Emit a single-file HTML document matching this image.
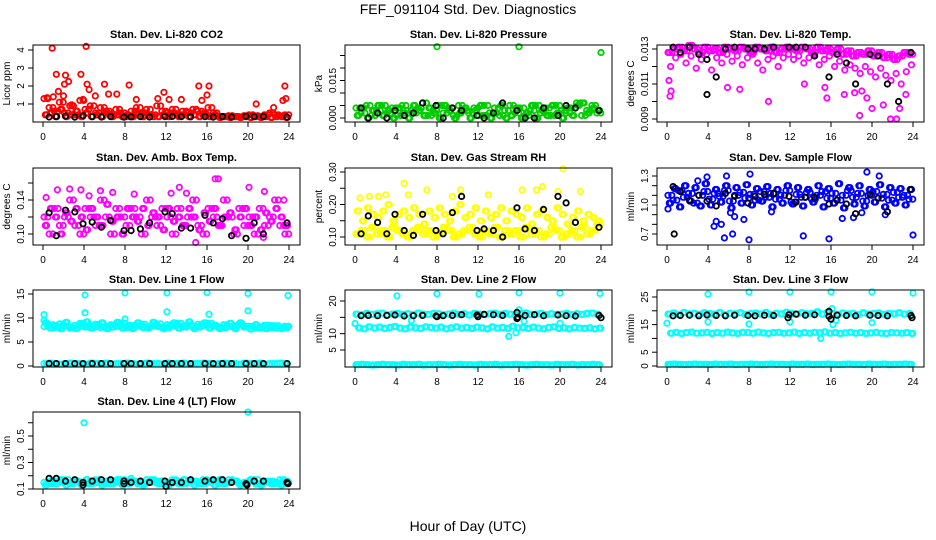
<!DOCTYPE html>
<html><head><meta charset="utf-8"><style>
body{margin:0;background:#fff}
svg{display:block}
text{font-family:"Liberation Sans",sans-serif;fill:#000}
</style></head><body>
<svg id="chart" width="936" height="540" viewBox="0 0 936 540" xmlns="http://www.w3.org/2000/svg">
<rect width="936" height="540" fill="#fff"/>
<text x="468" y="14" font-size="14" text-anchor="middle">FEF_091104  Std. Dev. Diagnostics</text>
<text x="468" y="531" font-size="14" text-anchor="middle">Hour of Day (UTC)</text>
</svg>
<script>
const T=[0.1,0.6,1.1,1.6,2.1,2.6,3.1,3.6,4.1,4.6,5.1,5.6,6.1,6.6,7.1,7.6,8.1,8.6,9.1,9.6,10.1,10.6,11.1,11.6,12.1,12.6,13.1,13.6,14.1,14.6,15.1,15.6,16.1,16.6,17.1,17.6,18.1,18.6,19.1,19.6,20.1,20.6,21.1,21.6,22.1,22.6,23.1,23.6];
const T2=[0.35,0.85,1.35,1.85,2.35,2.85,3.35,3.85,4.35,4.85,5.35,5.85,6.35,6.85,7.35,7.85,8.35,8.85,9.35,9.85,10.35,10.85,11.35,11.85,12.35,12.85,13.35,13.85,14.35,14.85,15.35,15.85,16.35,16.85,17.35,17.85,18.35,18.85,19.35,19.85,20.35,20.85,21.35,21.85,22.35,22.85,23.35,23.85];
const T3=[0.22,0.72,1.22,1.72,2.22,2.72,3.22,3.72,4.22,4.72,5.22,5.72,6.22,6.72,7.22,7.72,8.22,8.72,9.22,9.72,10.22,10.72,11.22,11.72,12.22,12.72,13.22,13.72,14.22,14.72,15.22,15.72,16.22,16.72,17.22,17.72,18.22,18.72,19.22,19.72,20.22,20.72,21.22,21.72,22.22,22.72,23.22,23.72];
const T4=[0.47,0.97,1.47,1.97,2.47,2.97,3.47,3.97,4.47,4.97,5.47,5.97,6.47,6.97,7.47,7.97,8.47,8.97,9.47,9.97,10.47,10.97,11.47,11.97,12.47,12.97,13.47,13.97,14.47,14.97,15.47,15.97,16.47,16.97,17.47,17.97,18.47,18.97,19.47,19.97,20.47,20.97,21.47,21.97,22.47,22.97,23.47,23.97];
const TB=[0.6,1.3,2.2,3.1,3.9,4.8,5.7,6.6,7.9,8.6,9.5,10.4,11.9,12.6,13.5,14.4,15.8,16.6,17.5,18.4,19.8,20.6,21.5,23.8];
const xTicks=[0,4,8,12,16,20,24];

const co2A=[1.3,0.8,0.6,1.1,0.5,0.9,0.4,1.2,0.7,0.9,0.5,0.8,0.6,0.4,0.7,0.5,0.3,0.6,0.8,0.5,0.7,0.4,0.9,0.6,0.5,0.7,0.4,0.6,0.5,0.7,0.6,0.4,0.8,0.5,0.3,0.3,0.35,0.3,0.3,0.35,0.4,0.35,0.3,0.4,0.5,0.4,0.35,0.4];
const co2B=[0.4,0.5,0.3,0.7,0.3,0.4,0.6,0.3,0.5,0.3,0.4,0.3,0.5,0.3,0.4,0.3,0.4,0.3,0.5,0.3,0.4,0.3,0.3,0.4,0.3,0.5,0.3,0.4,0.3,0.4,0.3,0.5,0.3,0.4,0.25,0.3,0.25,0.3,0.25,0.3,0.25,0.3,0.25,0.3,0.25,0.3,0.3,0.25];
const co2OutX=[0.9,4.2,1.3,3.7,2.2,2.5,4.3,6.0,8.4,15.2,16.2,23.6,2.1,1.5,11.8,4.5,6.4,7.2,16.0,2.0,5.1,11.2,12.3,13.5,9.1,20.8,23.7,23.4,0.4,1.0,3.9,2.8,22.5,15.5];
const co2OutY=[4.1,4.2,2.65,2.65,2.6,2.25,2.1,2.1,2.05,2.0,2.0,2.0,2.1,1.7,1.65,1.8,1.55,1.55,1.5,1.45,1.45,1.3,1.25,1.25,1.25,1.0,1.3,1.2,1.35,1.4,1.25,0.95,0.8,1.2];
const co2K=[0.28,0.3,0.33,0.27,0.35,0.3,0.28,0.3,0.27,0.29,0.3,0.28,0.3,0.31,0.3,0.29,0.3,0.27,0.3,0.28,0.32,0.3,0.31,0.27];

const prA=[0.004,0.002,0.005,0.001,0.003,0.005,0.002,0.004,0.001,0.005,0.003,0.002,0.004,0.006,0.001,0.003,0.005,0.002,0.004,0.001,0.005,0.003,0.002,0.004,0.001,0.005,0.002,0.004,0.001,0.003,0.005,0.002,0.004,0.001,0.003,0.005,0.002,0.004,0.001,0.005,0.003,0.002,0.004,0.006,0.001,0.003,0.005,0.002];
const prB=[0.001,0.004,0.000,0.003,0.005,0.001,0.003,0.000,0.004,0.002,0.000,0.005,0.003,0.001,0.004,0.002,0.000,0.005,0.003,0.000,0.002,0.004,0.000,0.003,0.005,0.001,0.000,0.002,0.005,0.000,0.001,0.004,0.000,0.002,0.005,0.000,0.003,0.001,0.005,0.002,0.000,0.004,0.001,0.005,0.006,0.002,0.004,0.003];
const prOutX=[8.0,16.0,24.0];
const prOutY=[0.0285,0.0285,0.0262];
const prK=[0.004,0.000,0.002,0.000,0.003,0.001,0.002,0.006,0.005,0.000,0.004,0.003,0.001,0.000,0.002,0.006,0.003,0.000,0.000,0.004,0.001,0.005,0.004,0.003];

const ltA=[0.0128,0.0130,0.0131,0.0129,0.0132,0.0130,0.0128,0.0131,0.0129,0.0130,0.0128,0.0131,0.0130,0.0129,0.0131,0.0130,0.0128,0.0131,0.0130,0.0129,0.0131,0.0128,0.0130,0.0131,0.0130,0.0129,0.0131,0.0130,0.0128,0.0131,0.0129,0.0130,0.0128,0.0130,0.0127,0.0129,0.0126,0.0128,0.0127,0.0129,0.0126,0.0128,0.0125,0.0127,0.0124,0.0126,0.0128,0.0127];
const ltB=[0.0120,0.0125,0.0127,0.0122,0.0126,0.0119,0.0124,0.0127,0.0118,0.0125,0.0122,0.0127,0.0123,0.0126,0.0121,0.0125,0.0127,0.0122,0.0118,0.0124,0.0126,0.0120,0.0125,0.0127,0.0124,0.0126,0.0122,0.0125,0.0127,0.0121,0.0124,0.0126,0.0120,0.0123,0.0118,0.0121,0.0119,0.0116,0.0120,0.0117,0.0114,0.0119,0.0115,0.0112,0.0116,0.0110,0.0117,0.0121];
const ltOutX=[0.2,0.3,0.4,9.9,7.1,5.9,18.8,21.8,22.4,20.0,21.1,22.7,23.3,13.4,17.3,18.3,19.0,15.4,15.6,19.5];
const ltOutY=[0.0112,0.0103,0.0106,0.0100,0.0107,0.0108,0.0092,0.0090,0.0090,0.0096,0.0098,0.0096,0.0104,0.0110,0.0104,0.0105,0.0106,0.0108,0.0102,0.0102];
const ltK=[0.0131,0.0128,0.0131,0.0127,0.0124,0.0114,0.0130,0.0131,0.0130,0.0130,0.0130,0.0131,0.0131,0.0131,0.0131,0.0126,0.0114,0.0127,0.0122,0.0110,0.0127,0.0126,0.0110,0.0128];
const ltKxX=[3.9,22.6];
const ltKxY=[0.0104,0.0100];

const abA=[0.12,0.10,0.13,0.11,0.12,0.14,0.11,0.10,0.13,0.12,0.11,0.14,0.12,0.10,0.13,0.12,0.11,0.13,0.12,0.10,0.14,0.12,0.11,0.13,0.12,0.10,0.13,0.11,0.12,0.14,0.11,0.10,0.13,0.12,0.11,0.14,0.12,0.10,0.13,0.11,0.12,0.10,0.13,0.11,0.12,0.14,0.11,0.10];
const abB=[0.11,0.13,0.12,0.10,0.125,0.115,0.13,0.12,0.105,0.13,0.12,0.11,0.135,0.115,0.12,0.10,0.13,0.12,0.115,0.13,0.11,0.125,0.12,0.105,0.13,0.115,0.12,0.11,0.13,0.12,0.105,0.125,0.115,0.13,0.11,0.12,0.125,0.105,0.12,0.13,0.11,0.12,0.105,0.125,0.115,0.13,0.12,0.11];
const abOutX=[15.7,16.8,17.1,20.1,13.3,1.4,2.6,3.7,5.6,6.8,12.5,8.9,14.0,0.3,21.6,14.9,21.5,4.5,23.5];
const abOutY=[0.182,0.165,0.165,0.155,0.155,0.152,0.153,0.152,0.151,0.149,0.148,0.147,0.148,0.143,0.150,0.090,0.096,0.145,0.140];
const abK=[0.125,0.098,0.128,0.126,0.112,0.114,0.108,0.116,0.104,0.104,0.106,0.113,0.126,0.124,0.107,0.107,0.122,0.113,0.118,0.098,0.095,0.113,0.100,0.113];

const rhA=[0.11,0.12,0.10,0.13,0.11,0.12,0.10,0.13,0.12,0.11,0.10,0.12,0.13,0.11,0.12,0.10,0.11,0.13,0.12,0.10,0.11,0.12,0.13,0.11,0.10,0.12,0.11,0.13,0.10,0.12,0.11,0.12,0.10,0.13,0.11,0.12,0.10,0.11,0.13,0.12,0.10,0.11,0.12,0.10,0.13,0.11,0.12,0.14];
const rhB=[0.18,0.15,0.19,0.17,0.16,0.18,0.20,0.15,0.17,0.18,0.16,0.19,0.17,0.14,0.18,0.16,0.19,0.17,0.15,0.18,0.20,0.16,0.17,0.19,0.15,0.18,0.16,0.17,0.19,0.15,0.18,0.17,0.16,0.19,0.14,0.17,0.18,0.16,0.15,0.19,0.17,0.14,0.16,0.18,0.15,0.17,0.16,0.15];
const rhOutX=[20.3,4.8,18.3,7.0,10.3,16.3,17.7,22.0,1.4,2.3,3.0,5.2,9.5,13.0,19.8,0.5];
const rhOutY=[0.31,0.265,0.255,0.245,0.245,0.245,0.245,0.24,0.225,0.225,0.23,0.23,0.225,0.23,0.24,0.22];
const rhK=[0.11,0.165,0.145,0.11,0.17,0.12,0.105,0.17,0.12,0.11,0.175,0.225,0.12,0.125,0.12,0.10,0.19,0.125,0.12,0.185,0.225,0.205,0.145,0.13];

const sfA=[1.1,1.05,1.15,1.08,1.12,1.02,1.1,1.14,1.06,1.12,1.09,1.15,1.04,1.1,1.13,1.07,1.11,1.05,1.14,1.08,1.12,1.06,1.1,1.15,1.03,1.11,1.08,1.13,1.06,1.1,1.14,1.07,1.12,1.05,1.1,1.15,1.08,1.12,1.04,1.1,1.14,1.07,1.11,1.05,1.13,1.08,1.1,1.06];
const sfB=[1.02,1.17,0.98,1.2,1.04,1.18,0.99,1.22,1.0,1.16,1.03,1.2,0.97,1.18,1.02,1.21,1.0,1.17,1.04,1.19,0.98,1.16,1.02,1.2,1.01,1.18,0.99,1.16,1.03,1.2,0.98,1.17,1.02,1.22,0.97,1.18,1.01,1.2,0.99,1.16,1.03,1.21,0.98,1.18,1.02,1.17,1.0,1.16];
const sfOutX=[0.1,3.0,3.9,5.8,8.1,19.5,20.7,4.6,4.8,5.3,5.6,6.4,6.6,7.5,8.0,13.3,15.8,24.0,17.1,18.2,19.0,21.3,6.2,10.2];
const sfOutY=[0.96,1.25,1.29,1.3,1.32,1.34,1.3,0.78,0.83,0.8,0.66,0.7,0.88,0.85,0.64,0.68,0.65,0.69,0.86,0.87,0.92,0.9,0.92,0.93];
const sfK=[1.19,1.14,1.05,1.10,1.04,0.99,1.12,1.09,1.02,1.09,1.11,1.12,1.09,1.03,1.08,1.08,1.01,1.05,1.01,0.91,1.11,1.07,0.93,1.16];
const sfKxX=[0.7];
const sfKxY=[0.70];

const l1A=[8.2,8.6,8.0,8.8,8.3,7.9,8.5,8.9,8.1,8.4,8.7,8.0,8.3,8.6,8.2,8.9,8.0,8.5,8.3,8.7,8.1,8.4,8.8,8.0,8.6,8.3,8.9,8.1,8.5,8.2,8.7,8.4,8.9,8.3,8.0,8.6,8.2,8.4,8.7,8.1,8.3,7.9,8.2,8.5,8.0,8.4,8.1,8.3];
const l1B=[9.0,7.9,8.4,7.8,9.1,8.1,7.8,8.3,9.2,7.9,8.2,9.0,7.8,8.1,9.1,7.9,8.4,7.8,9.0,8.0,7.9,9.1,8.2,7.8,8.0,9.0,7.9,8.4,9.2,7.8,8.1,9.0,7.9,8.5,7.8,8.0,8.9,7.8,9.0,8.2,7.7,8.6,7.9,7.8,8.4,7.9,7.8,8.0];
const l1C=[0.5,0.6,0.5,0.4,0.5,0.6,0.5,0.5,0.4,0.6,0.5,0.5,0.6,0.4,0.5,0.5,0.6,0.5,0.4,0.5,0.6,0.5,0.5,0.4,0.6,0.5,0.5,0.6,0.4,0.5,0.5,0.6,0.5,0.4,0.5,0.6,0.5,0.5,0.4,0.6,0.5,0.5,0.6,0.4,0.5,0.5,0.6,0.5];
const l1OutX=[4.1,8.0,12.1,16.0,20.0,23.9,4.1,12.1,20.0,16.2,0.1,0.1,8.0];
const l1OutY=[14.8,15.2,15.2,15.3,15.1,14.7,11.1,11.3,11.5,10.8,10.7,9.5,9.8];
const l1K=[0.5,0.5,0.5,0.5,0.5,0.5,0.5,0.5,0.5,0.5,0.5,0.5,0.5,0.5,0.5,0.5,0.5,0.5,0.5,0.5,0.5,0.5,0.5,0.5];

const l2A=[16.0,15.8,16.2,15.9,16.1,16.3,15.7,16.0,16.2,15.9,16.1,15.8,16.3,16.0,15.9,16.2,16.1,15.8,16.0,16.3,15.9,16.1,15.7,16.2,16.0,15.8,16.1,16.3,15.9,16.2,16.0,15.8,16.1,16.4,15.9,16.0,16.2,15.8,16.1,15.9,16.0,16.2,15.8,16.1,15.9,16.2,16.3,16.0];
const l2B=[11.8,11.5,12.1,11.7,12.0,11.6,11.9,12.2,11.7,11.5,12.0,11.8,11.6,12.1,11.9,11.7,12.0,11.5,11.8,12.1,11.7,11.9,11.6,12.0,11.8,11.5,12.1,11.7,11.9,11.6,12.3,11.8,11.9,11.6,12.0,11.7,11.5,11.9,12.1,11.6,11.8,11.5,11.9,11.7,11.6,11.8,11.5,11.7];
const l2C=[0.5,0.6,0.5,0.4,0.5,0.6,0.5,0.5,0.4,0.6,0.5,0.5,0.6,0.4,0.5,0.5,0.6,0.5,0.4,0.5,0.6,0.5,0.5,0.4,0.6,0.5,0.5,0.6,0.4,0.5,0.5,0.6,0.5,0.4,0.5,0.6,0.5,0.5,0.4,0.6,0.5,0.5,0.6,0.4,0.5,0.5,0.6,0.5];
const l2OutX=[4.1,8.0,12.1,16.0,20.0,23.9,0.0,16.0,15.0,15.7,5.5,16.5,20.0];
const l2OutY=[21.6,22.2,22.1,22.5,22.4,22.3,13.1,17.3,9.2,10.3,14.0,13.8,13.2];
const l2K=[15.5,15.6,15.5,15.6,15.7,15.4,15.5,15.6,15.4,15.5,15.6,15.8,15.7,15.9,15.8,15.6,16.5,15.6,15.8,15.5,15.7,15.5,15.4,15.6];
const l2KxX=[15.8,15.9,12.0,8.0,24.0];
const l2KxY=[14.6,15.0,15.2,15.2,14.9];

const l3A=[18.8,19.2,18.6,19.4,18.9,19.1,18.7,19.3,19.0,18.8,19.4,18.6,19.1,18.9,19.3,18.7,19.0,19.2,18.8,19.4,18.6,19.1,18.9,19.5,19.0,18.7,19.3,18.9,19.1,19.6,18.8,19.4,19.0,18.7,19.2,18.9,19.1,18.6,19.3,18.8,19.0,19.2,18.7,19.1,18.9,19.3,18.8,19.0];
const l3B=[11.9,12.2,11.8,12.1,12.3,11.9,12.0,12.2,11.8,12.1,11.9,12.3,12.0,11.8,12.2,12.1,11.9,12.3,12.0,11.8,12.1,12.2,11.9,12.0,12.3,11.8,12.1,11.9,12.2,12.0,12.4,11.9,12.1,11.8,12.0,12.2,11.9,12.1,11.8,12.0,12.2,11.9,11.8,12.1,12.0,11.9,12.1,11.8];
const l3C=[0.6,0.7,0.6,0.5,0.6,0.7,0.6,0.6,0.5,0.7,0.6,0.6,0.7,0.5,0.6,0.6,0.7,0.6,0.5,0.6,0.7,0.6,0.6,0.5,0.7,0.6,0.6,0.7,0.5,0.6,0.6,0.7,0.6,0.5,0.6,0.7,0.6,0.6,0.5,0.7,0.6,0.6,0.7,0.5,0.6,0.6,0.7,0.6];
const l3OutX=[4.0,8.0,12.0,16.0,20.0,24.0,0.0,4.0,8.0,12.0,20.0,15.0,16.5,16.1,16.2];
const l3OutY=[26.0,26.8,26.8,26.9,26.9,26.4,15.5,16.0,15.2,16.0,15.7,10.0,16.6,20.8,15.0];
const l3K=[18.2,18.3,18.4,18.2,18.5,18.3,18.2,18.4,18.3,18.2,18.4,18.3,18.6,18.8,18.4,18.6,18.0,18.4,18.3,18.2,18.4,18.3,18.2,18.3];
const l3KxX=[15.8,16.0,23.9,11.8];
const l3KxY=[19.8,17.0,17.5,17.5];

const l4A=[0.15,0.14,0.16,0.15,0.17,0.14,0.16,0.15,0.14,0.16,0.17,0.15,0.14,0.16,0.15,0.17,0.14,0.16,0.15,0.14,0.17,0.15,0.16,0.14,0.15,0.17,0.16,0.14,0.15,0.16,0.14,0.17,0.15,0.16,0.14,0.15,0.17,0.16,0.14,0.15,0.16,0.17,0.14,0.15,0.16,0.14,0.17,0.15];
const l4B=[0.13,0.16,0.14,0.17,0.13,0.15,0.16,0.13,0.17,0.14,0.15,0.13,0.16,0.14,0.17,0.13,0.15,0.16,0.14,0.13,0.15,0.17,0.14,0.16,0.13,0.15,0.14,0.17,0.16,0.13,0.15,0.14,0.16,0.13,0.17,0.14,0.15,0.16,0.13,0.15,0.17,0.14,0.13,0.16,0.14,0.15,0.13,0.16];
const l4OutX=[4.0,12.0,20.0,8.6];
const l4OutY=[0.60,0.71,0.68,0.18];
const l4K=[0.18,0.18,0.16,0.17,0.15,0.16,0.17,0.17,0.16,0.15,0.16,0.15,0.16,0.15,0.15,0.17,0.16,0.17,0.17,0.15,0.14,0.16,0.16,0.15];
const l4KxX=[3.9,7.9,12.0,19.9,23.9];
const l4KxY=[0.13,0.14,0.12,0.13,0.14];

const RED='#ff0000',GRN='#00cd00',MAG='#ff00ff',YEL='#ffff00',BLU='#0000ff',CYN='#00ffff',BLK='#000000';
const panels=[
 {id:'co2',title:'Stan. Dev. Li-820 CO2',yt:'Licor ppm',L:33,Tp:45,v1:1,p1:104,v2:4,p2:50,ticks:[1,2,3,4],labels:['1','2','3','4'],
  s:[[T,co2A,RED],[T2,co2B,RED],[T3,co2B,RED],[T4,co2A,RED],[co2OutX,co2OutY,RED],[TB,co2K,BLK]]},
 {id:'pressure',title:'Stan. Dev. Li-820 Pressure',yt:'kPa',L:345,Tp:45,v1:0,p1:118,v2:0.015,p2:80.5,ticks:[0,0.005,0.01,0.015,0.02,0.025],labels:['0.000','','','0.015','',''],
  s:[[T,prA,GRN],[T2,prB,GRN],[T3,prB,GRN],[T4,prA,GRN],[prOutX,prOutY,GRN],[TB,prK,BLK]]},
 {id:'licor-temp',title:'Stan. Dev. Li-820 Temp.',yt:'degrees C',L:657,Tp:45,v1:0.009,p1:119,v2:0.013,p2:49,ticks:[0.009,0.010,0.011,0.012,0.013],labels:['0.009','','0.011','','0.013'],
  s:[[T,ltA,MAG],[T2,ltB,MAG],[T3,ltA,MAG],[T4,ltA,MAG],[ltOutX,ltOutY,MAG],[TB,ltK,BLK],[ltKxX,ltKxY,BLK]]},
 {id:'box-temp',title:'Stan. Dev. Amb. Box Temp.',yt:'degrees C',L:33,Tp:168,v1:0.10,p1:234,v2:0.14,p2:200,ticks:[0.10,0.12,0.14,0.16],labels:['0.10','','0.14',''],
  s:[[T,abA,MAG],[T2,abB,MAG],[T3,abB,MAG],[T4,abA,MAG],[abOutX,abOutY,MAG],[TB,abK,BLK]]},
 {id:'rh',title:'Stan. Dev. Gas Stream RH',yt:'percent',L:345,Tp:168,v1:0.10,p1:237,v2:0.30,p2:172,ticks:[0.10,0.15,0.20,0.25,0.30],labels:['0.10','','0.20','','0.30'],
  s:[[T,rhA,YEL],[T2,rhB,YEL],[T3,rhA,YEL],[T4,rhA,YEL],[T3,rhB,YEL],[rhOutX,rhOutY,YEL],[TB,rhK,BLK]]},
 {id:'sample-flow',title:'Stan. Dev. Sample Flow',yt:'ml/min',L:657,Tp:168,v1:0.7,p1:234,v2:1.3,p2:176,ticks:[0.7,0.8,0.9,1.0,1.1,1.2,1.3],labels:['0.7','','','1.0','','','1.3'],
  s:[[T,sfA,BLU],[T2,sfB,BLU],[T3,sfB,BLU],[T4,sfA,BLU],[sfOutX,sfOutY,BLU],[TB,sfK,BLK],[sfKxX,sfKxY,BLK]]},
 {id:'line1',title:'Stan. Dev. Line 1 Flow',yt:'ml/min',L:33,Tp:290,v1:0,p1:366,v2:15,p2:294,ticks:[0,5,10,15],labels:['0','5','10','15'],
  s:[[T,l1A,CYN],[T2,l1B,CYN],[T3,l1B,CYN],[T4,l1A,CYN],[T,l1C,CYN],[T2,l1C,CYN],[l1OutX,l1OutY,CYN],[TB,l1K,BLK]]},
 {id:'line2',title:'Stan. Dev. Line 2 Flow',yt:'ml/min',L:345,Tp:290,v1:5,p1:350,v2:20,p2:301,ticks:[5,10,15,20],labels:['5','10','','20'],
  s:[[T,l2A,CYN],[T3,l2A,CYN],[T2,l2B,CYN],[T4,l2B,CYN],[T,l2C,CYN],[T2,l2C,CYN],[T3,l2C,CYN],[l2OutX,l2OutY,CYN],[TB,l2K,BLK],[l2KxX,l2KxY,BLK]]},
 {id:'line3',title:'Stan. Dev. Line 3 Flow',yt:'ml/min',L:657,Tp:290,v1:0,p1:366,v2:25,p2:297,ticks:[0,5,10,15,20,25],labels:['0','5','','15','','25'],
  s:[[T,l3A,CYN],[T3,l3A,CYN],[T2,l3B,CYN],[T4,l3B,CYN],[T,l3C,CYN],[T2,l3C,CYN],[T3,l3C,CYN],[l3OutX,l3OutY,CYN],[TB,l3K,BLK],[l3KxX,l3KxY,BLK]]},
 {id:'line4',title:'Stan. Dev. Line 4 (LT) Flow',yt:'ml/min',L:33,Tp:412,v1:0.1,p1:489,v2:0.5,p2:436,ticks:[0.1,0.2,0.3,0.4,0.5,0.6],labels:['0.1','','0.3','','0.5',''],
  s:[[T,l4A,CYN],[T2,l4B,CYN],[T3,l4B,CYN],[T4,l4A,CYN],[l4OutX,l4OutY,CYN],[TB,l4K,BLK],[l4KxX,l4KxY,BLK]]}
];
const NS='http://www.w3.org/2000/svg';
const svg=document.getElementById('chart');
function mk(tag,attrs,parent){const e=document.createElementNS(NS,tag);for(const k in attrs)e.setAttribute(k,attrs[k]);parent.appendChild(e);return e;}
const W=267,H=77;
panels.forEach(p=>{
  const g=mk('g',{},svg);
  
  
  const B=p.Tp+H;
  const xs=t=>p.L+10+t*(246/24);
  const ys=v=>p.p1+(v-p.v1)*(p.p2-p.p1)/(p.v2-p.v1);
  const inner=mk('g',{},g);
  
  
  p.s.forEach(([X,Y,c])=>{
    for(let i=0;i<Y.length;i++){
      const y=ys(Y[i]);
      if(y<p.Tp-2||y>B+2)continue;
      const ci=mk('circle',{cx:xs(X[i]).toFixed(1),cy:y.toFixed(1),r:2.7,fill:'none',stroke:c,'stroke-width':1.8},inner);
      
      
    }
  });
  const box=mk('rect',{x:p.L,y:p.Tp,width:W,height:H,fill:'none',stroke:'#000','stroke-width':1},g);
  
  
  const tt=mk('text',{x:p.L+W/2,y:p.Tp-7,'font-size':11,'font-weight':'bold','text-anchor':'middle'},g);
  tt.textContent=p.title;
  
  
  const yt=mk('text',{transform:`translate(${p.L-23},${p.Tp+H/2}) rotate(-90)`,'font-size':10,'text-anchor':'middle'},g);
  yt.textContent=p.yt;
  
  
  xTicks.forEach(t=>{
    const x=xs(t);
    mk('line',{x1:x,x2:x,y1:B,y2:B+5,stroke:'#000'},g);
    const lb=mk('text',{x:x,y:B+18,'font-size':10,'text-anchor':'middle'},g);
    lb.textContent=t;
    
    
  });
  p.ticks.forEach((v,i)=>{
    const y=ys(v);
    mk('line',{x1:p.L-5,x2:p.L,y1:y,y2:y,stroke:'#000'},g);
    if(p.labels[i]){
      const lb=mk('text',{transform:`translate(${p.L-9},${y}) rotate(-90)`,'font-size':10,'text-anchor':'middle'},g);
      lb.textContent=p.labels[i];
      
      
    }
  });
});
</script>
</body></html>
